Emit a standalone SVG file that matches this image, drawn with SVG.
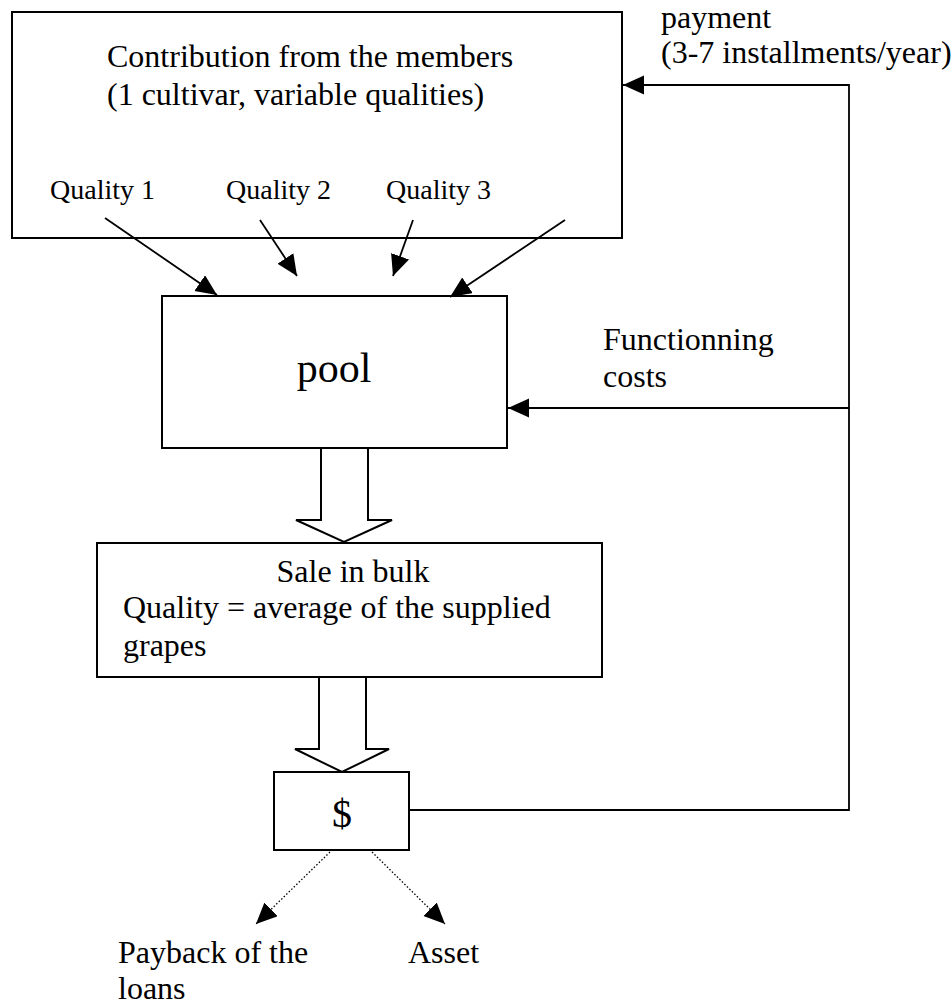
<svg xmlns="http://www.w3.org/2000/svg" width="952" height="1005" viewBox="0 0 952 1005">
<style>
  .box { fill: #fff; stroke: #000; stroke-width: 2; }
  .t { font-family: "Liberation Serif", "Times New Roman", serif; fill: #000; font-size: 32px; }
  .q { font-size: 28px; }
  .big { font-size: 42px; }
  .dollar { font-size: 40px; }
  .ln { fill: none; stroke: #000; stroke-width: 1.8; }
  .dot { fill: none; stroke: #000; stroke-width: 1.3; stroke-dasharray: 1.5 2; }
  .hollow { fill: #fff; stroke: #000; stroke-width: 2; stroke-linejoin: miter; }
</style>
<defs>
  <marker id="ah" markerUnits="userSpaceOnUse" markerWidth="24" markerHeight="20" refX="21" refY="9.5" orient="auto">
    <path d="M0,0 L21,9.5 L0,19 z" fill="#000"/>
  </marker>
</defs>
<rect width="952" height="1005" fill="#fff"/>

<g id="contribution">
  <rect class="box" x="12" y="12" width="610" height="226"/>
  <text class="t" x="107" y="67">Contribution from the members</text>
  <text class="t" x="107" y="105">(1 cultivar, variable qualities)</text>
  <text class="t q" x="50" y="199">Quality 1</text>
  <text class="t q" x="226" y="199">Quality 2</text>
  <text class="t q" x="386" y="199">Quality 3</text>
</g>

<g id="pool">
  <rect class="box" x="162" y="296" width="345" height="152"/>
  <text class="t big" x="334" y="382" text-anchor="middle">pool</text>
</g>

<g id="sale">
  <rect class="box" x="97" y="543" width="505" height="134"/>
  <text class="t" x="353" y="582" text-anchor="middle">Sale in bulk</text>
  <text class="t" x="123" y="618">Quality = average of the supplied</text>
  <text class="t" x="123" y="656">grapes</text>
</g>

<g id="money">
  <rect class="box" x="274" y="772" width="135" height="78"/>
  <text class="t dollar" x="342" y="827" text-anchor="middle">$</text>
</g>

<g id="labels">
  <text class="t" x="661" y="28">payment</text>
  <text class="t" x="661" y="63">(3-7 installments/year)</text>
  <text class="t" x="603" y="350">Functionning</text>
  <text class="t" x="603" y="387">costs</text>
  <text class="t" x="118" y="963">Payback of the</text>
  <text class="t" x="118" y="999">loans</text>
  <text class="t" x="408" y="963">Asset</text>
</g>

<g id="connectors">
  <line class="ln" x1="105" y1="218" x2="217" y2="295" marker-end="url(#ah)"/>
  <line class="ln" x1="260" y1="220" x2="297" y2="276" marker-end="url(#ah)"/>
  <line class="ln" x1="413" y1="220" x2="393" y2="276" marker-end="url(#ah)"/>
  <line class="ln" x1="565" y1="220" x2="450" y2="297" marker-end="url(#ah)"/>
  <polyline class="ln" points="409,810 849,810 849,85 623,85" marker-end="url(#ah)"/>
  <line class="ln" x1="849" y1="408" x2="508" y2="408" marker-end="url(#ah)"/>
  <polygon class="hollow" points="321,448 368,448 368,520 392,520 344,542 296,520 321,520"/>
  <polygon class="hollow" points="319,677 366,677 366,749 389,749 342,772 295,749 319,749"/>
  <line class="dot" x1="330" y1="852" x2="256" y2="924" marker-end="url(#ah)"/>
  <line class="dot" x1="372" y1="852" x2="445" y2="924" marker-end="url(#ah)"/>
</g>
</svg>
